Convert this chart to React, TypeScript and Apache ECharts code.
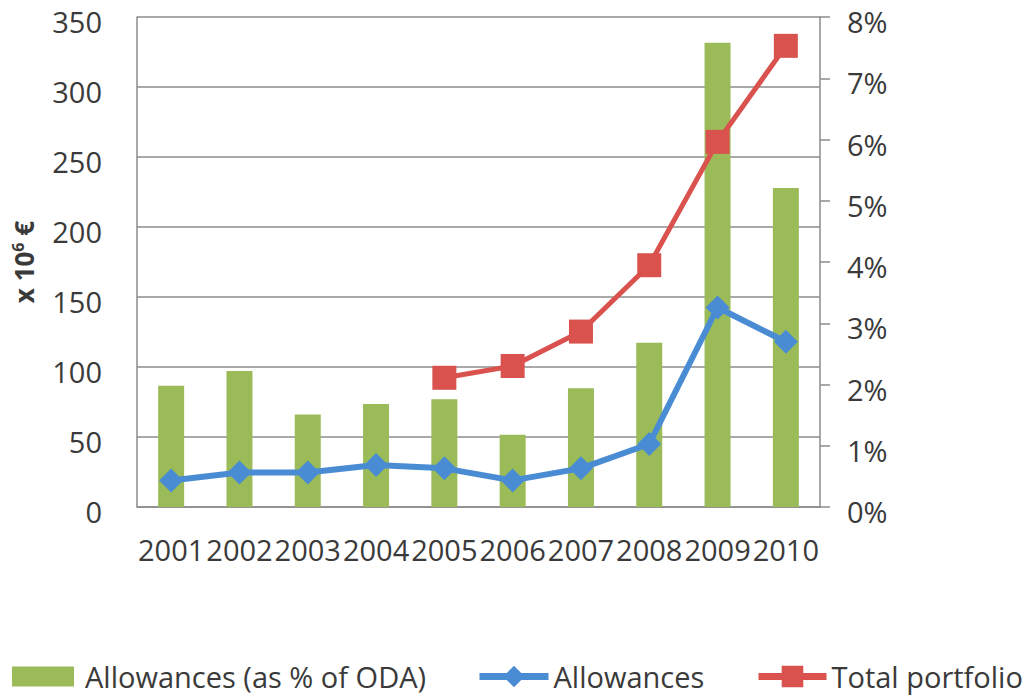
import React, { useEffect, useRef } from "react";
import * as echarts from "echarts";

const years = ["2001", "2002", "2003", "2004", "2005", "2006", "2007", "2008", "2009", "2010"];
const allowancesPctODA = [1.98, 2.22, 1.51, 1.68, 1.76, 1.18, 1.94, 2.68, 7.58, 5.21];
const allowances = [19, 24.6, 24.6, 30, 27.6, 19, 27.6, 45, 142.5, 118];
const totalPortfolio = [null, null, null, null, 92.3, 100.7, 125.3, 172.7, 260.8, 329.4];
const leftTicks = { min: 0, max: 350, interval: 50 };
const rightTicks = { min: 0, max: 8, interval: 1 };

const FONT = "Open Sans";
const TEXT = "#3a3a3a";
const GRID = "#8c8c8c";
const GREEN = "#9bbb59";
const BLUE = "#4a8cd4";
const RED = "#d9524e";

export default function App() {
  const ref = useRef<HTMLDivElement>(null);
  useEffect(() => {
    if (!ref.current) return;
    const chart = echarts.init(ref.current, null, { renderer: "svg" });
    const legendText = { fontFamily: FONT, fontSize: 29, color: TEXT, lineHeight: 29 };
    const axisText = { fontFamily: FONT, fontSize: 29, color: TEXT, verticalAlign: "top", lineHeight: 9 };
    chart.setOption({
      animation: false,
      backgroundColor: "#ffffff",
      grid: { left: 137, right: 208, top: 17, bottom: 189, containLabel: false },
      legend: [
        {
          data: [{ name: "Allowances (as % of ODA)", icon: "rect" }],
          left: 12, top: 662, padding: 0, itemWidth: 62, itemHeight: 20, itemGap: 0,
          textStyle: { ...legendText, padding: [0, 0, 0, 6] },
        },
        {
          data: ["Allowances"],
          left: 476, top: 662, padding: 0, itemWidth: 69, itemHeight: 27, itemGap: 0,
          lineStyle: { width: 7 },
          textStyle: legendText,
        },
        {
          data: ["Total portfolio"],
          left: 755, top: 662, padding: 0, itemWidth: 68, itemHeight: 27, itemGap: 0,
          lineStyle: { width: 7 },
          textStyle: legendText,
        },
      ],
      xAxis: {
        type: "category",
        data: years,
        axisLine: { show: true, lineStyle: { color: GRID, width: 1.5 } },
        axisTick: { show: false },
        axisLabel: { fontFamily: FONT, fontSize: 29, color: TEXT, margin: 28, interval: 0 },
      },
      yAxis: [
        {
          type: "value",
          min: leftTicks.min, max: leftTicks.max, interval: leftTicks.interval,
          name: "{a|x 10}{b|6}{a| €}",
          nameLocation: "middle",
          nameRotate: 90,
          nameGap: 99,
          nameTextStyle: {
            rich: {
              a: { fontFamily: FONT, fontSize: 26, fontWeight: "bold", color: TEXT },
              b: { fontFamily: FONT, fontSize: 16, fontWeight: "bold", color: TEXT, verticalAlign: "top", padding: [0, 0, 12, 0] },
            },
          },
          axisLine: { show: true, lineStyle: { color: GRID, width: 1.5 } },
          axisTick: { show: false },
          axisLabel: { ...axisText, margin: 35 },
          splitLine: { show: true, lineStyle: { color: GRID, width: 1.5 } },
        },
        {
          type: "value",
          position: "right",
          min: rightTicks.min, max: rightTicks.max, interval: rightTicks.interval,
          axisLine: { show: true, lineStyle: { color: GRID, width: 1.5 } },
          axisTick: { show: true, length: 10, inside: false, lineStyle: { color: GRID, width: 1.5 } },
          axisLabel: { ...axisText, margin: 27, formatter: "{value}%" },
          splitLine: { show: false },
        },
      ],
      series: [
        {
          name: "Allowances (as % of ODA)",
          type: "bar",
          yAxisIndex: 1,
          data: allowancesPctODA,
          barWidth: 26,
          itemStyle: { color: GREEN },
        },
        {
          name: "Allowances",
          type: "line",
          yAxisIndex: 0,
          data: allowances,
          symbol: "diamond",
          symbolSize: 24,
          lineStyle: { color: BLUE, width: 6 },
          itemStyle: { color: BLUE },
          z: 3,
        },
        {
          name: "Total portfolio",
          type: "line",
          yAxisIndex: 0,
          data: totalPortfolio,
          symbol: "rect",
          symbolSize: 24,
          lineStyle: { color: RED, width: 5 },
          itemStyle: { color: RED },
          z: 4,
        },
      ],
    });
    return () => chart.dispose();
  }, []);
  return (
    <div
      ref={ref}
      style={{ position: "absolute", left: 0, top: 0, width: 1028, height: 696 }}
    />
  );
}
